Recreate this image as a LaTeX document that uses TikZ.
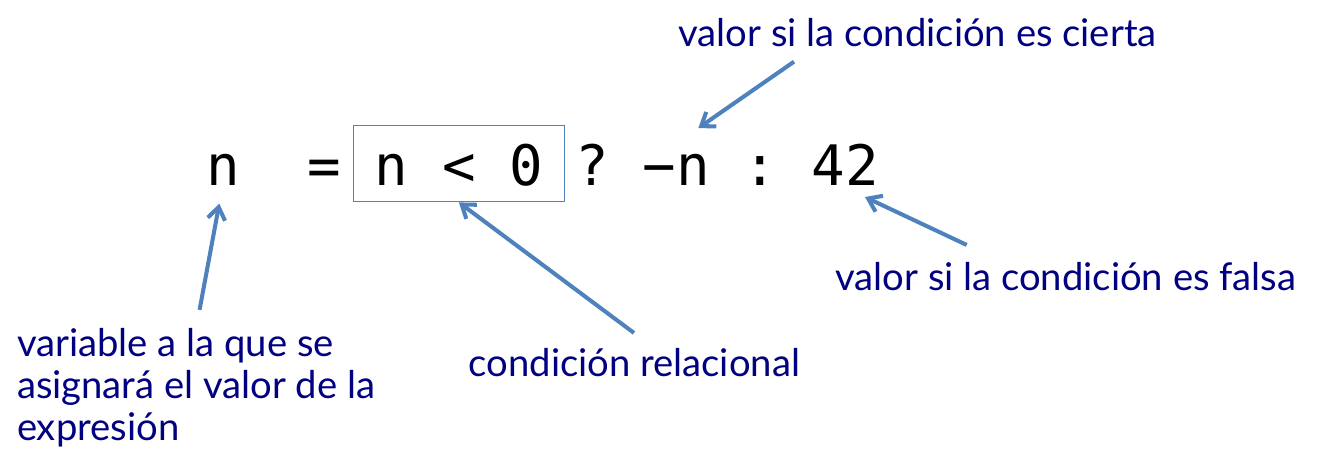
\documentclass[tikz,border=0pt]{standalone}
\usepackage{fontspec}
\usetikzlibrary{arrows.meta}
\newfontfamily\codigo{DejaVu Sans Mono}
\newfontfamily\etiq{Lato}
\definecolor{azulosc}{RGB}{0,0,128}
\definecolor{azulfl}{RGB}{79,129,189}

\begin{document}
\begin{tikzpicture}[x=0.02cm, y=-0.02cm,
		tok/.style={inner sep=0pt, anchor=base, text height=23pt, text depth=0pt, font=\codigo\fontsize{31.75}{38}\selectfont},
		caja/.style={tok, draw=azulfl, line width=0.8pt, inner xsep=12.2pt, text height=34pt, text depth=9.5pt},
		etiqueta/.style={inner sep=0pt, text=azulosc, font=\etiq\fontsize{21.75}{23.8}\selectfont},
		flecha/.style={draw=azulfl, line width=2.3pt, -{Straight Barb[length=7pt,width=10pt]}}]
		%%%%% START %%%%%
		\useasboundingbox (0,0) rectangle (1317,464);
		
		% expresion
		\node[tok] (varn) at (223.7,185) {n};
		\node[tok] (igual) at (324.5,185) {=};
		\node[caja] (cond) at (458.9,185) {n < 0};
		\node[tok] (pregunta) at (592.7,185) {?};
		\node[tok] (negn) at (676.5,185) {−n};
		\node[tok] (dospuntos) at (760.1,185) {:};
		\node[tok] (cuarenta) at (845.3,185) {42};
		
		% etiquetas
		\node[etiqueta, anchor=base west] (ciertalbl) at (678,46) {valor si la condición es cierta};
		\node[etiqueta, anchor=base west] (falsalbl) at (835,290) {valor si la condición es falsa};
		\node[etiqueta, anchor=base west] (condlbl) at (468.3,376.7) {condición relacional};
		\node[etiqueta, align=left, anchor=north west] (varlbl) at (16.7,328) {variable a la que se\\asignará el valor de la\\expresión};
		
		% flechas
		\draw[flecha, shorten <=10.5pt] (varlbl.north) -- ([shift={(-4.4,18.3)}]varn.south);
		\draw[flecha] ([shift={(165.7,-44.4)}]condlbl.south west) -- (cond.south);
		\draw[flecha] ([shift={(116,15)}]ciertalbl.south west) -- ([shift={(21.8,-16.1)}]negn.north);
		\draw[flecha] ([shift={(131.7,-45.7)}]falsalbl.south west) -- ([shift={(19.7,11.7)}]cuarenta.south);
		%%%%% END %%%%%
\end{tikzpicture}
\end{document}
